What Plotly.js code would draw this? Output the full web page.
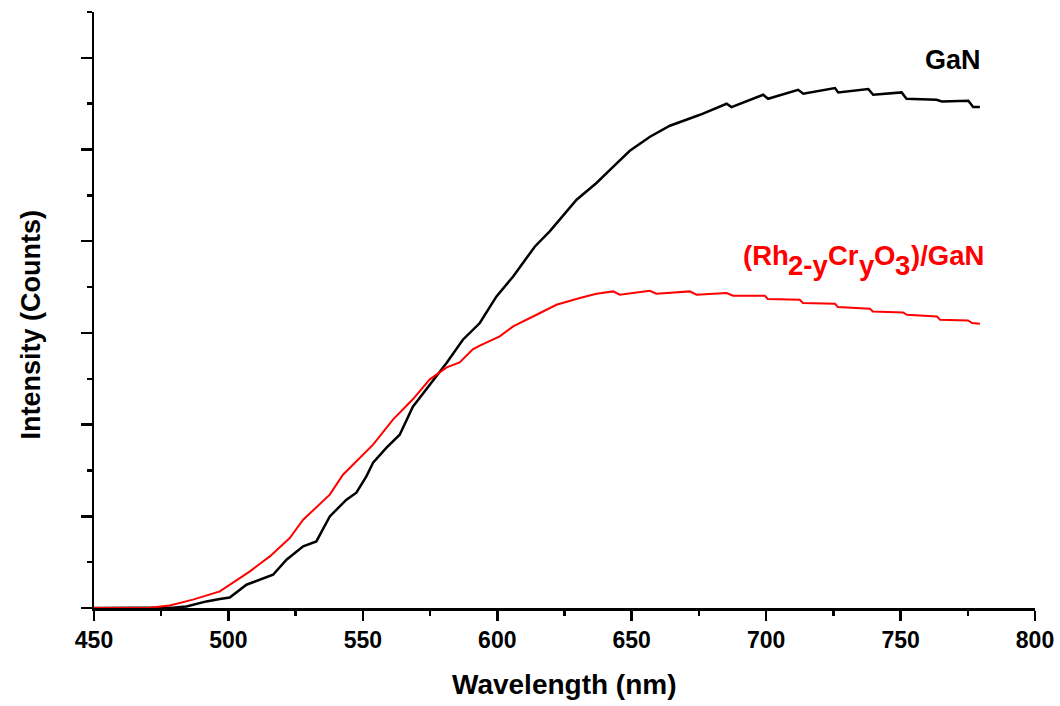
<!DOCTYPE html>
<html>
<head>
<meta charset="utf-8">
<script src="https://cdn.plot.ly/plotly-3.0.1.min.js"></script>
<style>html,body{margin:0;padding:0;background:#fff;}#chart{width:1060px;height:706px;}</style>
</head>
<body>
<div id="chart"></div>
<script>
// GaN (black)
const ganWavelength = [450, 475, 480, 484.4, 487, 491.8, 496.8, 500.5, 506.7, 511.6, 516.6, 521.6, 527.8, 532.7, 537.7, 543.9, 547.6, 551.3, 553.8, 558.8, 563.7, 568.6, 574.9, 581.2, 587.2, 593.5, 599.7, 605.9, 614.0, 619.5, 629.5, 636.9, 642.0, 649.3, 656.8, 664.2, 675.4, 685.3, 687.1, 698.9, 700.7, 711.9, 713.8, 725.6, 726.8, 738.0, 739.8, 750.4, 752.2, 763.4, 765.3, 775.2, 777.0, 779.5];
const ganIntensity = [0, 0, 5, 17, 35, 72, 98, 114, 254, 309, 363, 527, 672, 726, 999, 1181, 1257, 1435, 1585, 1748, 1890, 2196, 2435, 2675, 2926, 3108, 3398, 3616, 3943, 4107, 4453, 4635, 4780, 4987, 5140, 5260, 5379, 5499, 5463, 5597, 5554, 5652, 5609, 5671, 5623, 5660, 5597, 5623, 5554, 5543, 5525, 5532, 5463, 5463];

// (Rh2-yCryO3)/GaN (red)
const rhWavelength = [450, 468, 470.7, 478.2, 486.8, 496.8, 504.2, 508, 511.6, 515.4, 522.8, 527.8, 537.7, 542.6, 553.8, 556.3, 561.2, 568.6, 574.9, 581.2, 586.0, 590.9, 593.5, 600.9, 605.9, 614.6, 622.0, 630.7, 636.9, 643.1, 645.6, 656.7, 659.2, 671.6, 674.1, 685.3, 687.7, 699.5, 700.6, 712.5, 713.7, 725.6, 726.7, 738.6, 739.7, 750.9, 752.4, 763.5, 764.7, 775.1, 776.6, 779.5];
const rhIntensity = [0, 0, 3, 28, 91, 181, 320, 400, 480, 563, 763, 963, 1236, 1454, 1781, 1870, 2054, 2276, 2494, 2625, 2679, 2821, 2862, 2962, 3071, 3198, 3307, 3381, 3427, 3453, 3417, 3460, 3427, 3453, 3417, 3435, 3406, 3406, 3370, 3362, 3326, 3318, 3282, 3264, 3234, 3224, 3198, 3180, 3144, 3136, 3108, 3100];

const xTickVals = [450, 500, 550, 600, 650, 700, 750, 800];
const xTickText = ['450', '500', '550', '600', '650', '700', '750', '800'];

// label text pieces for the red series (main text and subscripts)
const rhLabelParts = [
  {t: '(Rh', sub: false, px: 740.5},
  {t: '2-y', sub: true,  px: 786.3},
  {t: 'Cr',  sub: false, px: 826.0},
  {t: 'y',   sub: true,  px: 856.6},
  {t: 'O',   sub: false, px: 871.9},
  {t: '3',   sub: true,  px: 893.3},
  {t: ')/GaN', sub: false, px: 908.6}
];

const FONT = 'Liberation Sans, Arial, sans-serif';
const L = 94, R = 25, T = 12, B = 98, W = 1060, H = 706;
const pw = W - L - R, ph = H - T - B;
const px2x = p => (p - L) / pw;
const py2y = p => (H - B - p) / ph;

const traces = [
  {x: ganWavelength, y: ganIntensity, type: 'scatter', mode: 'lines',
   line: {color: '#000000', width: 2.5}, hoverinfo: 'skip', showlegend: false},
  {x: rhWavelength, y: rhIntensity, type: 'scatter', mode: 'lines',
   line: {color: '#ff0000', width: 2}, hoverinfo: 'skip', showlegend: false}
];

const annotations = [
  {text: '<b>Wavelength (nm)</b>', xref: 'paper', yref: 'paper', x: 0.5, y: py2y(684),
   xanchor: 'center', yanchor: 'middle', showarrow: false,
   font: {family: FONT, size: 28, color: '#000'}},
  {text: '<b>Intensity (Counts)</b>', xref: 'paper', yref: 'paper', x: px2x(30), y: py2y(324.5),
   xanchor: 'center', yanchor: 'middle', textangle: -90, showarrow: false,
   font: {family: FONT, size: 27, color: '#000'}},
  {text: '<b>GaN</b>', xref: 'paper', yref: 'paper', x: px2x(983), y: py2y(60),
   xanchor: 'right', yanchor: 'middle', showarrow: false,
   font: {family: FONT, size: 27, color: '#000'}}
];
rhLabelParts.forEach(p => {
  annotations.push({text: '<b>' + p.t + '</b>', xref: 'paper', yref: 'paper',
    x: px2x(p.px), y: py2y(p.sub ? 265.5 : 255.5),
    xanchor: 'left', yanchor: 'middle', showarrow: false,
    font: {family: FONT, size: 27.5, color: '#ff0000'}});
});

const layout = {
  width: W, height: H,
  margin: {l: L, r: R, t: T, b: B},
  paper_bgcolor: '#ffffff', plot_bgcolor: '#ffffff',
  font: {family: FONT, color: '#000000'},
  showlegend: false,
  xaxis: {
    range: [450, 800], tickmode: 'array', tickvals: xTickVals, ticktext: xTickText,
    ticks: 'outside', ticklen: 10, tickwidth: 2.5, tickcolor: '#000',
    showline: true, linewidth: 2.5, linecolor: '#000', mirror: false,
    showgrid: false, zeroline: false,
    tickfont: {family: FONT, size: 23, color: '#000', weight: 'bold'},
    minor: {dtick: 25, tick0: 450, ticks: 'outside', ticklen: 5, tickwidth: 2.5, tickcolor: '#000', showgrid: false}
  },
  yaxis: {
    range: [0, 6500], dtick: 1000, tick0: 0,
    ticks: 'outside', ticklen: 11, tickwidth: 2.5, tickcolor: '#000',
    showline: true, linewidth: 2.5, linecolor: '#000',
    showgrid: false, zeroline: false, showticklabels: false,
    minor: {dtick: 500, ticks: 'outside', ticklen: 5, tickwidth: 2.5, tickcolor: '#000', showgrid: false}
  },
  annotations: annotations
};

Plotly.newPlot('chart', traces, layout, {staticPlot: true, displayModeBar: false});
</script>
</body>
</html>
